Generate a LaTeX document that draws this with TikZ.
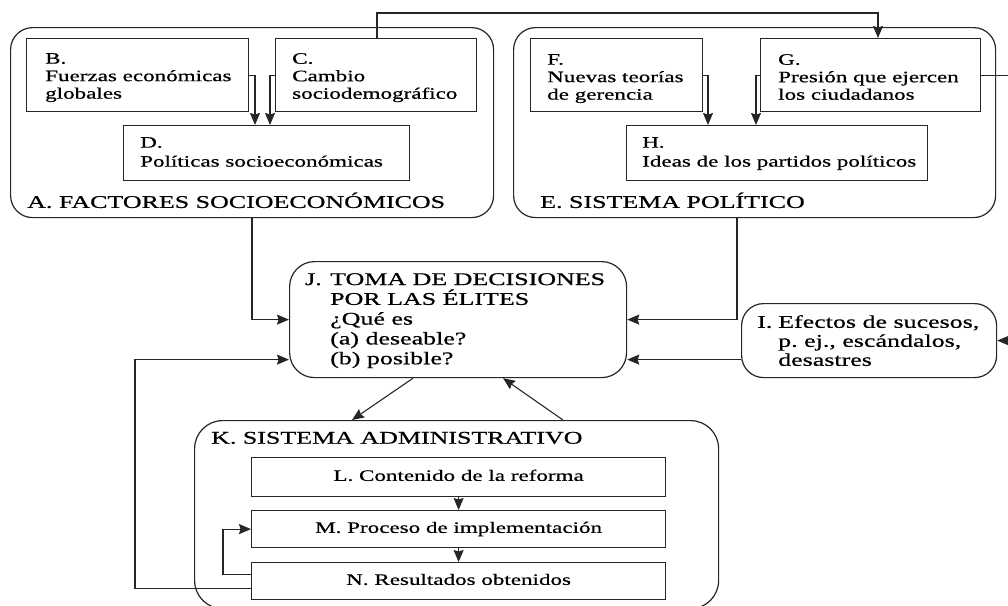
\documentclass[tikz,border=0pt]{standalone}
\usepackage{fontspec}
\setmainfont{Liberation Serif}[FakeStretch=1.45,FakeBold=0.7]
\usetikzlibrary{arrows.meta,calc}
\newcommand\mybody{\fontsize{15.9}{17.5}\selectfont}
\newcommand\mytitle{\fontsize{17.9}{19.8}\selectfont}
\begin{document}
\begin{tikzpicture}[x=1pt,y=-1pt,
  box/.style={draw=black!85, line width=1.2pt, rectangle, anchor=north west, inner sep=0pt},
  rbox/.style={box, rounded corners=#1},
  txt/.style={anchor=north west, inner sep=0pt, align=left, font=\mybody},
  ttl/.style={anchor=base west, inner sep=0pt, font=\mytitle},
  arr/.style={draw=black!85, line width=1.1pt, -{Stealth[length=12pt,width=10pt,inset=1.5pt]}},
  ctext/.style={font=\mybody, text height=10.5pt, text depth=3pt}
]
\useasboundingbox (0,0) rectangle (1008,605);

% big rounded boxes
\node[rbox=22pt, minimum width=483pt, minimum height=190pt] (A) at (10,27) {};
\node[rbox=22pt, minimum width=482pt, minimum height=190pt] (E) at (513,27) {};
\node[rbox=25pt, minimum width=337pt, minimum height=116pt] (J) at (289,261) {};
\node[rbox=22pt, minimum width=255pt, minimum height=74pt] (I) at (741,303) {};
\node[rbox=28pt, minimum width=524pt, minimum height=188pt] (K) at (194,420) {};

% inner boxes
\node[box, minimum width=222pt, minimum height=73pt] (B) at (26,38) {};
\node[box, minimum width=201pt, minimum height=73pt] (C) at (275,38) {};
\node[box, minimum width=286pt, minimum height=55pt] (D) at (123,125) {};
\node[box, minimum width=172pt, minimum height=73pt] (F) at (530,38) {};
\node[box, minimum width=220pt, minimum height=73pt] (G) at (760,38) {};
\node[box, minimum width=301pt, minimum height=55pt] (H) at (626,125) {};
\node[box, ctext, minimum width=414pt, minimum height=39pt] (L) at (251,457) {L. Contenido de la reforma};
\node[box, ctext, minimum width=414pt, minimum height=37pt] (M) at (251,510) {M. Proceso de implementación};
\node[box, ctext, minimum width=414pt, minimum height=37pt] (N) at (251,562) {N. Resultados obtenidos};

% texts
\node[txt] (Bt) at ([xshift=19pt,yshift=-15pt]B.north west) {B.\\Fuerzas económicas\\globales};
\node[txt] (Ct) at ([xshift=17pt,yshift=-15pt]C.north west) {C.\\Cambio\\sociodemográfico};
\node[txt] (Dt) at ([xshift=17pt,yshift=-12pt]D.north west) {D.\\[1.5pt]Políticas socioeconómicas};
\node[txt] (Ft) at ([xshift=17pt,yshift=-16pt]F.north west) {F.\\Nuevas teorías\\de gerencia};
\node[txt] (Gt) at ([xshift=18pt,yshift=-16pt]G.north west) {G.\\Presión que ejercen\\los ciudadanos};
\node[txt] (Ht) at ([xshift=16pt,yshift=-12pt]H.north west) {H.\\[1.5pt]Ideas de los partidos políticos};
\node[txt, font=\mytitle] (Jt) at ([xshift=16pt,yshift=-12pt]J.north west)
  {\makebox[25pt][l]{J.}TOMA DE DECISIONES\\\hspace*{25pt}POR LAS ÉLITES\\\hspace*{25pt}¿Qué es\\\hspace*{25pt}(a) deseable?\\\hspace*{25pt}(b) posible?};
\node[txt, font=\mytitle] (It) at ([xshift=16pt,yshift=-12pt]I.north west)
  {\makebox[21pt][l]{I.}Efectos de sucesos,\\[-0.8pt]\hspace*{21pt}p.~ej., escándalos,\\[-0.8pt]\hspace*{21pt}desastres};
\node[ttl] (At) at ([xshift=17pt,yshift=10.3pt]A.south west) {A. FACTORES SOCIOECONÓMICOS};
\node[ttl] (Et) at ([xshift=27pt,yshift=10.3pt]E.south west) {E. SISTEMA POLÍTICO};
\node[ttl] (Kt) at ([xshift=17pt,yshift=-23.7pt]K.north west) {K. SISTEMA ADMINISTRATIVO};

% helper coordinates
\coordinate (top) at (0,13);
\coordinate (cout) at ([xshift=102pt]C.north west);
\coordinate (gin) at ([xshift=118pt]G.north west);
\coordinate (rgt) at (1022,0);
\coordinate (aout) at ([xshift=242pt]A.south west);
\coordinate (eout) at ([xshift=224pt]E.south west);
\coordinate (iout) at ([yshift=-19pt]I.west);
\coordinate (nout) at ([yshift=-7.5pt]N.west);
\coordinate (fb) at (135,0);
\coordinate (jin) at ([yshift=-40pt]J.west);
\coordinate (nloop) at ([yshift=6.5pt]N.west);
\coordinate (lp) at (223,0);
\coordinate (jk1) at ([xshift=124pt]J.south west);
\coordinate (jk2) at ([xshift=158pt]K.north west);
\coordinate (kj1) at ([xshift=369pt]K.north west);
\coordinate (kj2) at ([xshift=214pt]J.south west);

% connectors
\draw[arr] (B.east) -| ([xshift=132pt]D.north west);
\draw[arr] (C.west) -| ([xshift=147pt]D.north west);
\draw[arr] (F.east) -| ([xshift=82pt]H.north west);
\draw[arr] (G.west) -| ([xshift=130pt]H.north west);
\draw[arr] (cout) -- (cout |- top) -| (gin);
\draw[arr] (G.east) -- (G.east -| rgt) |- (I.east);
\draw[arr] (aout) |- (J.west);
\draw[arr] (eout) |- (J.east);
\draw[arr] (iout) -- (iout -| J.east);
\draw[arr] (nout) -- (nout -| fb) |- (jin);
\draw[arr] (nloop) -- (nloop -| lp) |- (M.west);
\draw[arr] (jk1) -- (jk2);
\draw[arr] (kj1) -- (kj2);
\draw[arr] (L.south) -- (M.north);
\draw[arr] (M.south) -- (N.north);
\end{tikzpicture}
\end{document}
